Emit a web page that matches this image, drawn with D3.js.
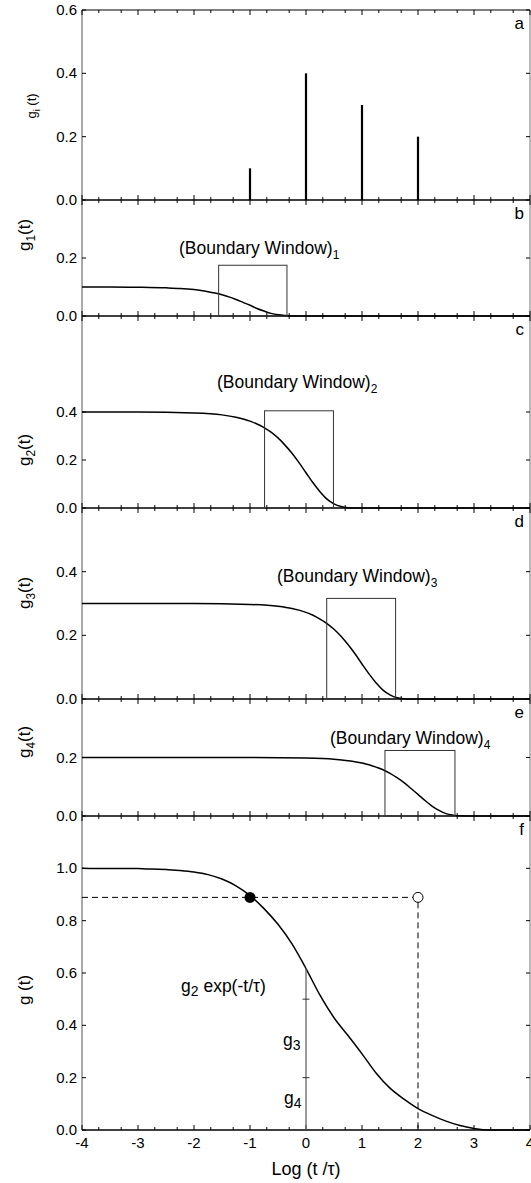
<!DOCTYPE html>
<html>
<head>
<meta charset="utf-8">
<script src="https://cdn.jsdelivr.net/npm/d3@7"></script>
<style>
  body { margin: 0; background: #fff; }
  text { font-family: "Liberation Sans", Arial, sans-serif; fill: #000; }
</style>
</head>
<body>
<div id="chart"></div>
<script>
// x axis (log t / tau)
var xTicks = [-4, -3, -2, -1, 0, 1, 2, 3, 4];
var minorOffsets = [0.3, 0.7];

// panel a: relaxation spectrum
var spikeX = [-1, 0, 1, 2];
var spikeG = [0.1, 0.4, 0.3, 0.2];

// panels b-e: single modes
var g1X = [-4, -3.5, -3, -2.5, -2.25, -2, -1.875, -1.75, -1.625, -1.5, -1.375, -1.25, -1.125, -1, -0.875, -0.75, -0.625, -0.5, -0.375, -0.25, -0.125, 0, 4];
var g1Y = [0.100, 0.100, 0.099, 0.097, 0.095, 0.091, 0.088, 0.084, 0.079, 0.073, 0.066, 0.057, 0.047, 0.037, 0.026, 0.017, 0.009, 0.004, 0.0015, 0.0004, 0.0001, 0, 0];

var g2X = [-4, -3, -2, -1.5, -1.25, -1, -0.875, -0.75, -0.625, -0.5, -0.375, -0.25, -0.125, 0, 0.125, 0.25, 0.375, 0.5, 0.625, 0.75, 0.875, 1, 4];
var g2Y = [0.400, 0.400, 0.396, 0.388, 0.378, 0.362, 0.350, 0.335, 0.316, 0.292, 0.262, 0.228, 0.189, 0.147, 0.105, 0.068, 0.037, 0.017, 0.006, 0.0014, 0.0002, 0, 0];

var g3X = [-4, -2, -1, -0.5, -0.25, 0, 0.125, 0.25, 0.375, 0.5, 0.625, 0.75, 0.875, 1, 1.125, 1.25, 1.375, 1.5, 1.625, 1.75, 1.875, 2, 4];
var g3Y = [0.300, 0.300, 0.297, 0.291, 0.284, 0.272, 0.263, 0.251, 0.237, 0.219, 0.197, 0.171, 0.142, 0.110, 0.079, 0.051, 0.028, 0.013, 0.004, 0.001, 0.0002, 0, 0];

var g4X = [-4, -1, 0, 0.5, 0.75, 1, 1.125, 1.25, 1.375, 1.5, 1.625, 1.75, 1.875, 2, 2.125, 2.25, 2.375, 2.5, 2.625, 2.75, 2.875, 3, 4];
var g4Y = [0.200, 0.200, 0.198, 0.194, 0.189, 0.181, 0.175, 0.167, 0.158, 0.146, 0.131, 0.114, 0.094, 0.074, 0.053, 0.034, 0.019, 0.008, 0.003, 0.0007, 0.0001, 0, 0];

// panel f: sum
var gX = [-4, -3.5, -3, -2.75, -2.5, -2.25, -2, -1.75, -1.5, -1.25, -1, -0.75, -0.5, -0.25, 0, 0.25, 0.5, 0.75, 1, 1.25, 1.5, 1.75, 2, 2.25, 2.5, 2.75, 3, 3.25, 4];
var gY = [1.000, 0.999, 0.999, 0.997, 0.996, 0.992, 0.986, 0.976, 0.959, 0.933, 0.896, 0.846, 0.786, 0.711, 0.617, 0.515, 0.429, 0.361, 0.291, 0.218, 0.160, 0.118, 0.082, 0.056, 0.034, 0.017, 0.006, 0, 0];

// boundary windows (panels b-e)
var windowX0 = [-1.56, -0.74, 0.37, 1.41];
var windowX1 = [-0.34, 0.49, 1.60, 2.66];
var windowTop = [0.175, 0.405, 0.316, 0.224];

// marked points in f
var markY = 0.889;
var markX = [-1, 2];
var splitTicks = [0.2, 0.5];
var splitTop = 0.617;

// panels
var panelLetters = ["a", "b", "c", "d", "e", "f"];
var panelMax = [0.6, 0.4, 0.8, 0.6, 0.4, 1.2];
var panelTicks = [[0, 0.2, 0.4, 0.6], [0, 0.2], [0, 0.2, 0.4], [0, 0.2, 0.4], [0, 0.2], [0, 0.2, 0.4, 0.6, 0.8, 1.0]];

// layout
var W = 531, H = 1183;
var left = 82, right = 530;
var bounds = [10, 200, 316, 508, 699, 816, 1130];
var yLabelY = [106, 235, 450, 593, 742, 990];

var svg = d3.select("#chart").append("svg")
  .attr("width", W).attr("height", H);

var x = d3.scaleLinear().domain([-4, 4]).range([left, right]);
var fmt = d3.format(".1f");

var minorTicks = [];
xTicks.slice(0, -1).forEach(function(t) {
  minorOffsets.forEach(function(o) { minorTicks.push(t + o); });
});

var ys = [];
panelLetters.forEach(function(letter, i) {
  var top = bounds[i], bot = bounds[i + 1];
  var y = d3.scaleLinear().domain([0, panelMax[i]]).range([bot, top]);
  ys.push(y);
  var g = svg.append("g");

  // side lines
  g.append("line").attr("x1", left).attr("x2", left).attr("y1", top).attr("y2", bot)
    .attr("stroke", "#555").attr("stroke-width", 1);
  g.append("line").attr("x1", right).attr("x2", right).attr("y1", top).attr("y2", bot)
    .attr("stroke", "#777").attr("stroke-width", 1);
  // horizontal lines
  g.append("line").attr("x1", left).attr("x2", right).attr("y1", bot).attr("y2", bot)
    .attr("stroke", "#000").attr("stroke-width", 1.6);
  if (i == 0) {
    g.append("line").attr("x1", left).attr("x2", right).attr("y1", top).attr("y2", top)
      .attr("stroke", "#000").attr("stroke-width", 1);
  }

  // x ticks, inward top and bottom
  [[xTicks, 5], [minorTicks, 3]].forEach(function(set) {
    set[0].forEach(function(t) {
      g.append("line").attr("x1", x(t)).attr("x2", x(t)).attr("y1", bot).attr("y2", bot - set[1])
        .attr("stroke", "#000").attr("stroke-width", 1);
      g.append("line").attr("x1", x(t)).attr("x2", x(t)).attr("y1", top).attr("y2", top + set[1])
        .attr("stroke", "#000").attr("stroke-width", 1);
    });
  });

  // y ticks and labels
  panelTicks[i].forEach(function(t) {
    g.append("line").attr("x1", left).attr("x2", left + 4).attr("y1", y(t)).attr("y2", y(t))
      .attr("stroke", "#000");
    g.append("line").attr("x1", right).attr("x2", right - 4).attr("y1", y(t)).attr("y2", y(t))
      .attr("stroke", "#000");
    g.append("text").attr("x", left - 5).attr("y", y(t) + 5)
      .attr("text-anchor", "end").style("font-size", "15px").text(fmt(t));
  });

  // panel letter
  g.append("text").attr("x", right - 6).attr("y", top + 19)
    .attr("text-anchor", "end").style("font-size", "17px").text(letter);
});

// y axis titles
function yTitle(i, sub, size, cx) {
  var t = svg.append("text")
    .attr("transform", "translate(" + cx + "," + yLabelY[i] + ") rotate(-90)")
    .attr("text-anchor", "middle").style("font-size", size + "px");
  t.append("tspan").text("g");
  t.append("tspan").attr("dy", size * 0.3).style("font-size", (size * 0.7) + "px").text(sub);
  t.append("tspan").attr("dy", -size * 0.3).text(sub == "i" ? " (t)" : "(t)");
}
yTitle(0, "i", 13, 36);
yTitle(1, "1", 17, 30);
yTitle(2, "2", 17, 30);
yTitle(3, "3", 17, 30);
yTitle(4, "4", 17, 30);
svg.append("text")
  .attr("transform", "translate(30," + yLabelY[5] + ") rotate(-90)")
  .attr("text-anchor", "middle").style("font-size", "17px").text("g (t)");

// x tick labels and title (bottom only)
xTicks.forEach(function(t) {
  svg.append("text").attr("x", x(t)).attr("y", bounds[6] + 18)
    .attr("text-anchor", "middle").style("font-size", "15px").text(t);
});
svg.append("text").attr("x", x(0)).attr("y", 1175)
  .attr("text-anchor", "middle").style("font-size", "18px").text("Log (t /\u03c4)");

// panel a spikes
svg.append("g").selectAll("line").data(spikeX).enter().append("line")
  .attr("x1", function(d) { return x(d); }).attr("x2", function(d) { return x(d); })
  .attr("y1", ys[0](0)).attr("y2", function(d, i) { return ys[0](spikeG[i]); })
  .attr("stroke", "#000").attr("stroke-width", 2.2);

// single mode curves and windows
var modes = [[g1X, g1Y], [g2X, g2Y], [g3X, g3Y], [g4X, g4Y]];
var winTextX = [179, 217, 277, 330];
var winTextY = [254, 388, 582, 744];
modes.forEach(function(m, k) {
  var y = ys[k + 1];
  var pts = m[0].map(function(v, j) { return [v, m[1][j]]; });
  var line = d3.line().x(function(d) { return x(d[0]); }).y(function(d) { return y(d[1]); })
    .curve(d3.curveMonotoneX);
  svg.append("path").datum(pts).attr("d", line)
    .attr("fill", "none").attr("stroke", "#000").attr("stroke-width", 1.5);
  svg.append("rect")
    .attr("x", x(windowX0[k])).attr("y", y(windowTop[k]))
    .attr("width", x(windowX1[k]) - x(windowX0[k])).attr("height", y(0) - y(windowTop[k]))
    .attr("fill", "none").attr("stroke", "#333").attr("stroke-width", 1);
  var t = svg.append("text").attr("x", winTextX[k]).attr("y", winTextY[k]).style("font-size", "17.5px");
  t.append("tspan").text("(Boundary Window)");
  t.append("tspan").attr("dy", 5).style("font-size", "12px").text(k + 1);
});

// panel f
var yf = ys[5];
var fpts = gX.map(function(v, j) { return [v, gY[j]]; });
svg.append("path").datum(fpts)
  .attr("d", d3.line().x(function(d) { return x(d[0]); }).y(function(d) { return yf(d[1]); })
    .curve(d3.curveMonotoneX))
  .attr("fill", "none").attr("stroke", "#000").attr("stroke-width", 1.5);

svg.append("line").attr("x1", x(-4)).attr("x2", x(markX[1]) - 5)
  .attr("y1", yf(markY)).attr("y2", yf(markY))
  .attr("stroke", "#000").attr("stroke-dasharray", "6,4");
svg.append("line").attr("x1", x(markX[1])).attr("x2", x(markX[1]))
  .attr("y1", yf(markY) + 5).attr("y2", yf(0))
  .attr("stroke", "#000").attr("stroke-dasharray", "6,4");
svg.append("circle").attr("cx", x(markX[0])).attr("cy", yf(markY)).attr("r", 5.5).attr("fill", "#000");
svg.append("circle").attr("cx", x(markX[1])).attr("cy", yf(markY)).attr("r", 5)
  .attr("fill", "none").attr("stroke", "#000").attr("stroke-width", 1);

svg.append("line").attr("x1", x(0)).attr("x2", x(0)).attr("y1", yf(0)).attr("y2", yf(splitTop))
  .attr("stroke", "#666").attr("stroke-width", 1.3);
splitTicks.forEach(function(v) {
  svg.append("line").attr("x1", x(0) - 3.5).attr("x2", x(0) + 3.5).attr("y1", yf(v)).attr("y2", yf(v))
    .attr("stroke", "#333");
});

function subLabel(px, py, sub, rest) {
  var t = svg.append("text").attr("x", px).attr("y", py).style("font-size", "17.5px");
  t.append("tspan").text("g");
  t.append("tspan").attr("dy", 4).style("font-size", "14px").text(sub);
  if (rest) t.append("tspan").attr("dy", -4).text(rest);
}
subLabel(181, 992, "2", " exp(-t/\u03c4)");
subLabel(283, 1046, "3");
subLabel(284, 1104, "4");
</script>
</body>
</html>
